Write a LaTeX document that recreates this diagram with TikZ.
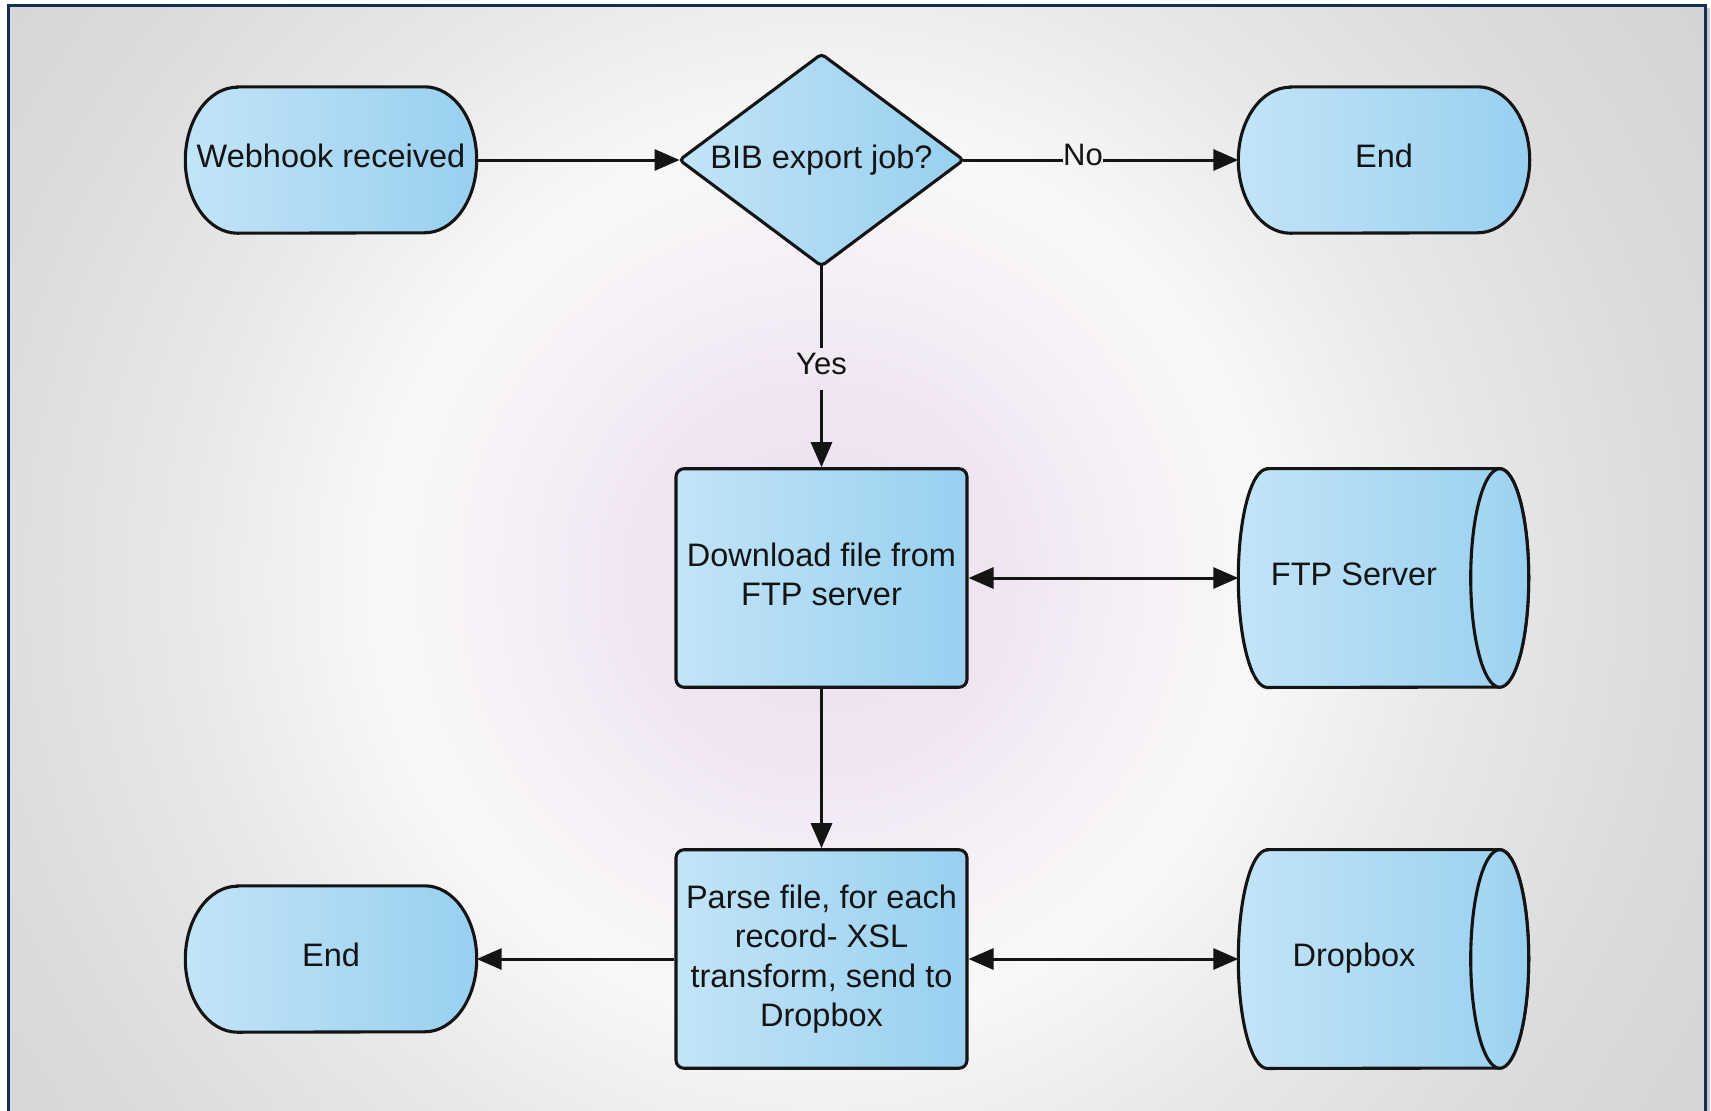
\documentclass[tikz,border=0pt]{standalone}
\usepackage{fontspec}
\setmainfont{Liberation Sans}
\usetikzlibrary{arrows.meta,calc}
\pgfdeclarelayer{back}
\pgfdeclarelayer{shapes}
\pgfsetlayers{back,shapes,main}
\definecolor{bgc0}{RGB}{237,224,240}
\definecolor{bgc1}{RGB}{239,229,242}
\definecolor{bgc2}{RGB}{246,241,247}
\definecolor{bgc3}{RGB}{248,248,248}
\definecolor{bgc4}{RGB}{233,232,233}
\definecolor{bgc5}{RGB}{220,219,220}
\definecolor{bgc6}{RGB}{211,210,211}
\definecolor{boxl}{RGB}{194,228,247}
\definecolor{boxr}{RGB}{152,208,240}
\definecolor{framec}{RGB}{22,46,84}
\definecolor{ink}{RGB}{20,20,20}
\pgfdeclareradialshading{bgshade}{\pgfpoint{0bp}{0bp}}{color(0bp)=(bgc0); color(4bp)=(bgc1); color(7.5bp)=(bgc2); color(10bp)=(bgc3); color(14.5bp)=(bgc4); color(19.5bp)=(bgc5); color(25bp)=(bgc6); color(50bp)=(bgc6)}
\newcommand\mkstadium[1]{\path[shapefill] ($(#1.north west)+(52pt,0pt)$) -- ($(#1.north east)+(-52pt,0pt)$) arc[start angle=90,end angle=-90,x radius=52pt,y radius=73pt] -- ($(#1.south west)+(52pt,0pt)$) arc[start angle=270,end angle=90,x radius=52pt,y radius=73pt] -- cycle;}
\newcommand\mkcyl[1]{\path[shapefill] ($(#1.north west)+(29pt,0pt)$) -- ($(#1.north east)+(30pt,0pt)$) arc[start angle=90,end angle=-90,x radius=29pt,y radius=109.25pt] -- ($(#1.south west)+(29pt,0pt)$) arc[start angle=270,end angle=90,x radius=29pt,y radius=109.25pt] -- cycle;
\path[capfill] ($(#1.east)+(30pt,0pt)$) ellipse[x radius=29pt,y radius=109.25pt];}
\begin{document}
\begin{tikzpicture}[x=1pt,y=-1pt,
  txt/.style={font=\fontsize{32.5pt}{39.3pt}\selectfont, text=ink, align=center, inner sep=0pt},
  lbl/.style={font=\fontsize{31pt}{36pt}\selectfont, text=ink, inner sep=0pt},
  shapefill/.style={draw=ink, line width=3.1pt, left color=boxl, right color=boxr},
  capfill/.style={draw=ink, line width=3.1pt, left color=boxl!40!boxr, right color=boxr},
  procbox/.style={txt, draw=ink, line width=3.1pt, left color=boxl, right color=boxr, rounded corners=8pt, minimum width=291pt, minimum height=218.5pt},
  termnode/.style={txt, text depth=8pt, minimum width=291pt, minimum height=146pt},
  decnode/.style={txt, minimum width=283.5pt, minimum height=211.5pt},
  cylnode/.style={txt, text depth=8pt, minimum width=231pt, minimum height=218.5pt},
  lineonly/.style={draw=ink, line width=3pt},
  conn/.style={lineonly, -{Triangle[length=25pt,width=21pt]}},
  conn2/.style={lineonly, {Triangle[length=25pt,width=21pt]}-{Triangle[length=25pt,width=21pt]}},
]
\useasboundingbox (0,0) rectangle (1711,1111);
\begin{pgfonlayer}{back}
\fill[white] (0,0) rectangle (1711,1111);
\fill[black!22] (1705,8) rectangle (1709.5,1111);
\begin{scope}
\clip (8,5) rectangle (1705,1120);
\shade[shading=bgshade] (-279,-522) rectangle (1921,1678);
\end{scope}
\draw[framec, line width=3pt] (8,5) rectangle (1705,1125);
\end{pgfonlayer}

\node[termnode] (hook) at (331,160) {Webhook received};
\node[decnode] (dec) at (821.5,160) {BIB export job?};
\node[termnode] (end1) at (1384,160) {End};
\node[procbox, text depth=8pt] (dl) at (821.5,578) {Download file from\\FTP server};
\node[cylnode] (ftp) at (1354,578) {FTP Server};
\node[procbox] (parse) at (821.5,959) {Parse file, for each\\record- XSL\\transform, send to\\Dropbox};
\node[termnode] (end2) at (331,959) {End};
\node[cylnode] (drop) at (1354,959) {Dropbox};

\begin{pgfonlayer}{shapes}
\mkstadium{hook}
\mkstadium{end1}
\mkstadium{end2}
\path[shapefill, rounded corners=4pt] (dec.west) -- (dec.north) -- (dec.east) -- (dec.south) -- cycle;
\mkcyl{ftp}
\mkcyl{drop}
\end{pgfonlayer}

\node[lbl] (nolab) at (1083,155) {No};
\node[lbl] (yes) at (821.5,364) {Yes};

\draw[conn] (hook.east) -- (dec.west);
\draw[lineonly] (dec.east) -- (dec.east -| nolab.west);
\draw[conn] (nolab.east |- end1.west) -- (end1.west);
\draw[lineonly] (dec.south) -- ($(yes.north)+(0,-5)$);
\draw[conn] ($(yes.south)+(0,15)$) -- (dl.north);
\draw[conn2] (dl.east) -- (ftp.west);
\draw[conn] (dl.south) -- (parse.north);
\draw[conn] (parse.west) -- (end2.east);
\draw[conn2] (parse.east) -- (drop.west);
\end{tikzpicture}
\end{document}
